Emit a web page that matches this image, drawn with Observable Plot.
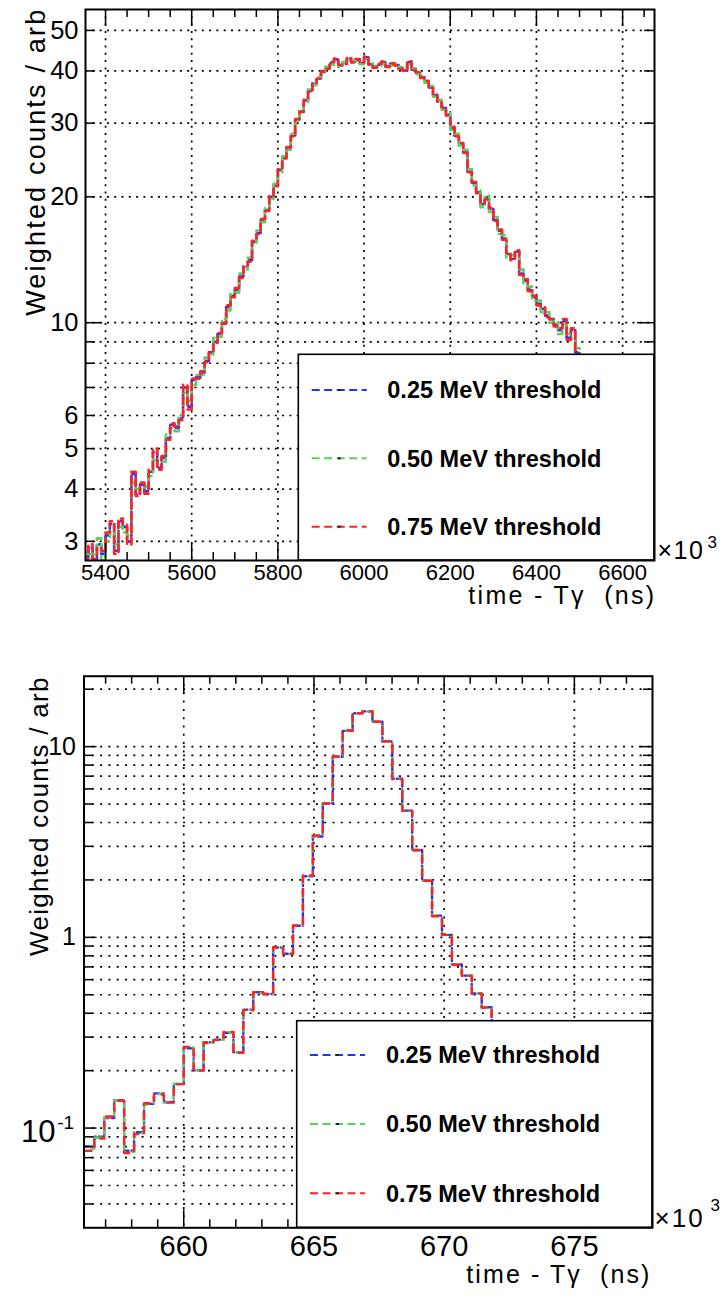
<!DOCTYPE html>
<html>
<head>
<meta charset="utf-8">
<script src="https://cdn.jsdelivr.net/npm/d3@7"></script>
<script src="https://cdn.jsdelivr.net/npm/@observablehq/plot@0.6"></script>
<style>
html, body { margin: 0; padding: 0; background: #fff; }
#chart { width: 726px; }
#chart svg { display: block; }
</style>
</head>
<body>
<div id="chart"></div>
<script>
// ---------------- data ----------------
const legendLabels = ["0.25 MeV threshold", "0.50 MeV threshold", "0.75 MeV threshold"];
const seriesColors = ["#2233ff", "#5ccf5c", "#ff2222"];

// top panel: histogram, first bin edge 5350, bin width 10 (x10^3 ns)
const topBinStart = 5350;
const topBinWidth = 10;
const top025 = [2.75,2.9,2.7,2.95,2.8,3.1,3.3,2.85,3.35,3.25,
 3.0,4.35,3.9,4.1,3.95,4.4,4.9,4.5,4.75,5.3,
 5.7,5.6,5.9,7.0,6.3,7.3,7.4,7.6,8.1,8.5,
 9.0,9.4,10.0,10.9,11.6,12.0,12.9,13.6,14.1,15.6,
 16.4,17.6,18.6,20.0,21.3,23.2,24.8,26.2,28.0,30.6,
 32.0,34.0,35.8,37.3,38.4,39.8,40.6,41.8,42.6,41.2,
 41.6,42.8,42.0,42.5,41.8,43.1,41.5,40.9,41.4,41.9,
 41.0,41.6,41.3,40.5,40.1,42.0,40.3,39.6,38.6,37.8,
 36.5,35.0,33.8,32.6,31.4,29.2,28.0,26.8,25.6,23.0,
 21.6,20.5,19.2,19.8,18.7,17.6,16.6,15.9,14.6,14.2,
 14.8,13.1,12.6,12.0,11.5,11.1,10.8,10.4,10.2,9.9,
 9.6,10.1,9.2,9.6,8.5,8.1,7.7];
const top050 = [2.85,2.8,2.8,3.05,2.7,3.0,3.2,2.95,3.25,3.15,
 3.1,4.15,4.0,4.0,4.05,4.3,4.7,4.65,4.65,5.4,
 5.6,5.5,6.0,6.8,6.5,7.1,7.5,7.5,8.25,8.4,
 9.2,9.25,10.2,10.7,11.8,11.8,13.1,13.4,14.3,15.4,
 16.6,17.4,18.8,19.8,21.5,22.9,25.0,25.9,28.3,30.3,
 32.3,33.7,36.1,37.0,38.7,39.5,40.9,41.4,42.3,40.9,
 42.0,42.4,42.3,42.2,41.5,42.7,41.8,41.1,41.1,41.6,
 41.3,41.3,41.6,40.8,40.4,41.5,40.6,39.3,38.9,37.5,
 36.8,34.7,34.1,32.3,31.7,28.9,28.3,26.5,25.9,23.3,
 21.3,20.8,18.9,20.1,18.4,17.9,16.3,16.2,14.3,14.5,
 14.5,13.4,12.4,12.2,11.3,11.3,10.6,10.6,10.0,10.1,
 9.4,9.9,9.4,9.4,8.7,7.9,7.9];
const top075 = [2.7,2.95,2.72,2.9,2.85,3.15,3.35,2.8,3.4,3.3,
 2.95,4.4,3.85,4.15,3.9,4.45,5.0,4.45,4.8,5.25,
 5.75,5.65,5.85,7.1,6.2,7.35,7.35,7.65,8.05,8.55,
 8.95,9.45,9.95,11.0,11.5,12.1,12.8,13.7,14.0,15.7,
 16.3,17.7,18.5,20.1,21.2,23.3,24.7,26.3,27.9,30.7,
 31.9,34.1,35.7,37.4,38.3,40.0,40.5,42.0,42.8,41.4,
 41.5,43.0,41.9,42.7,41.9,43.3,41.4,40.7,41.6,42.1,
 40.9,41.7,41.2,40.4,40.0,42.2,40.2,39.7,38.5,37.9,
 36.4,35.1,33.7,32.7,31.3,29.4,27.9,26.9,25.5,22.9,
 21.7,20.4,19.3,19.7,18.8,17.5,16.7,15.8,14.7,14.1,
 14.9,13.0,12.7,11.9,11.6,11.0,10.9,10.3,10.2,9.8,
 9.7,10.2,9.1,9.7,8.4,8.2,7.6];

// bottom panel: histogram, first bin edge 656.186, bin width 0.3814 (x10^3 ns)
const botBinStart = 656.186;
const botBinWidth = 0.3814;
const bot025 = [0.080,0.090,0.113,0.140,0.076,0.095,0.134,0.152,0.137,0.170,0.262,0.201,0.282,0.291,0.316,0.250,0.418,0.515,0.505,0.884,0.820,1.150,2.090,3.380,5.050,8.850,12.10,14.95,15.30,13.50,10.65,6.780,4.620,2.870,1.980,1.300,1.030,0.720,0.630,0.508,0.430,0.330];
const bot050 = [0.078,0.089,0.114,0.139,0.075,0.094,0.133,0.151,0.136,0.171,0.265,0.200,0.281,0.290,0.318,0.249,0.416,0.513,0.503,0.886,0.818,1.152,2.107,3.410,5.040,8.860,12.13,14.95,15.30,13.50,10.66,6.770,4.620,2.870,1.980,1.300,1.030,0.719,0.630,0.508,0.430,0.330];
const bot075 = [0.076,0.088,0.115,0.139,0.074,0.093,0.135,0.150,0.136,0.170,0.266,0.200,0.280,0.290,0.319,0.248,0.415,0.516,0.505,0.887,0.817,1.153,2.110,3.420,5.030,8.870,12.15,14.96,15.31,13.49,10.67,6.760,4.610,2.860,1.980,1.290,1.030,0.718,0.629,0.507,0.429,0.329];

// ticks
const topXTicks = [5400, 5600, 5800, 6000, 6200, 6400, 6600];
const topYLabels = [3, 4, 5, 6, 10, 20, 30, 40, 50];
const topYGrid = [3, 4, 5, 6, 7, 8, 9, 10, 20, 30, 40, 50];
const topYLong = [10];
const botXTicks = [660, 665, 670, 675];
const botYLabels = [1, 10];
const botYGrid = [0.04,0.05,0.06,0.07,0.08,0.09,0.1,0.2,0.3,0.4,0.5,0.6,0.7,0.8,0.9,1,2,3,4,5,6,7,8,9,10,20];
const botYLong = [0.1, 1, 10];
const yTitle = "Weighted counts / arb";
const xTitle = "time - T\u03b3 \u00a0(ns)";

// ---------------- helpers ----------------
const FONT = "'Liberation Sans', Arial, Helvetica, sans-serif";

function histSteps(start, width, vals) {
  const pts = vals.map((v, i) => ({x: start + i * width, y: v}));
  pts.push({x: start + vals.length * width, y: vals[vals.length - 1]});
  return pts;
}

function seriesLines(start, width, arrays, sw, dash, off) {
  return arrays.map((vals, i) => Plot.line(histSteps(start, width, vals), {
    x: "x", y: "y", curve: "step-after", stroke: seriesColors[i], strokeWidth: sw,
    strokeDasharray: dash[i], strokeDashoffset: off[i], clip: true
  }));
}

function frameTicks(cfg) {
  const s = {stroke: "black", strokeWidth: 1.5};
  const pw = cfg.width - cfg.ml - cfg.mr, ph = cfg.height - cfg.mt - cfg.mb;
  const yShort = cfg.yGrid.filter(d => !cfg.yLong.includes(d));
  return [
    Plot.ruleX(cfg.xMajor, {...s, insetTop: ph - cfg.xL}),
    Plot.ruleX(cfg.xMajor, {...s, insetBottom: ph - cfg.xL}),
    Plot.ruleX(cfg.xMinor, {...s, insetTop: ph - cfg.xl}),
    Plot.ruleX(cfg.xMinor, {...s, insetBottom: ph - cfg.xl}),
    Plot.ruleY(cfg.yLong, {...s, insetRight: pw - cfg.yL}),
    Plot.ruleY(cfg.yLong, {...s, insetLeft: pw - cfg.yL}),
    Plot.ruleY(yShort, {...s, insetRight: pw - cfg.yl}),
    Plot.ruleY(yShort, {...s, insetLeft: pw - cfg.yl})
  ];
}

function legendMark(L) {
  return function(index, scales, values, dims) {
    const g = d3.create("svg:g");
    const x2 = dims.width - dims.marginRight, y2 = dims.height - dims.marginBottom;
    g.append("rect").attr("x", L.x1).attr("y", L.y1)
      .attr("width", x2 - L.x1).attr("height", y2 - L.y1)
      .attr("fill", "white").attr("stroke", "black").attr("stroke-width", 1.6);
    legendLabels.forEach((lab, i) => {
      const y = L.rows[i];
      g.append("line").attr("x1", L.lx1).attr("x2", L.lx2).attr("y1", y).attr("y2", y)
        .attr("stroke", seriesColors[i]).attr("stroke-width", 2).attr("stroke-dasharray", "8,4.5");
      const mid = (L.lx1 + L.lx2) / 2;
      g.append("line").attr("x1", mid - 1.5).attr("x2", mid + 1.5).attr("y1", y).attr("y2", y)
        .attr("stroke", "#222").attr("stroke-width", 2);
      g.append("text").attr("x", L.tx).attr("y", y).attr("dy", "0.35em")
        .attr("text-anchor", "start")
        .attr("font-family", FONT).attr("font-weight", "bold").attr("font-size", L.fs)
        .attr("fill", "black").text(lab);
    });
    return g.node();
  };
}

function spaceText(svg, str, ls) {
  d3.select(svg).selectAll("text")
    .filter(function() { return this.textContent === str; })
    .style("letter-spacing", ls + "px");
}

const gridStyle = {stroke: "black", strokeOpacity: 1, strokeWidth: 1.7};

// ---------------- top chart ----------------
const T = {width: 726, height: 650, ml: 85, mr: 72, mt: 9, mb: 90};
const topXDomain = [5353.5, 6674];
const topChart = Plot.plot({
  width: T.width, height: T.height,
  marginLeft: T.ml, marginRight: T.mr, marginTop: T.mt, marginBottom: T.mb,
  x: {domain: topXDomain, axis: null, label: null},
  y: {type: "log", domain: [2.70, 56.1], axis: null, label: null},
  style: {fontFamily: FONT, fontSize: "22px", color: "black", background: "white", overflow: "visible"},
  marks: [
    Plot.gridX(topXTicks, {...gridStyle, strokeDasharray: "2,5.3"}),
    Plot.gridY(topYGrid, {...gridStyle, strokeDasharray: "2,5.3"}),
    ...seriesLines(topBinStart, topBinWidth, [top025, top050, top075], 2.6,
      ["6,3", "7,5", "7,5"], [0, -6, 0]),
    ...frameTicks({...T, xMajor: topXTicks,
      xMinor: d3.range(5400, 6675, 50).filter(d => d % 200 !== 0),
      yGrid: topYGrid, yLong: topYLong, xL: 17, xl: 8, yL: 17, yl: 10}),
    legendMark({x1: 298.3, y1: 354.3, rows: [390, 458.3, 526.7], lx1: 311.7, lx2: 366.7, tx: 387.3, fs: 23.5}),
    Plot.frame({stroke: "black", strokeWidth: 2}),
    Plot.axisX(topXTicks, {anchor: "bottom", tickSize: 0, tickPadding: 4, fontSize: 22, tickFormat: d => String(d), label: null}),
    Plot.axisY(topYLabels, {anchor: "left", tickSize: 0, tickPadding: 7, fontSize: 25.5, tickFormat: d => String(d), label: null}),
    Plot.text([yTitle], {text: d => d, frameAnchor: "top-left", rotate: -90, textAnchor: "end", dx: -60, dy: -2, fontSize: 27}),
    Plot.text([xTitle], {text: d => d, frameAnchor: "bottom-right", textAnchor: "end", dx: 2, dy: 43, fontSize: 25}),
    Plot.text(["\u00d710"], {text: d => d, frameAnchor: "bottom-right", textAnchor: "start", lineAnchor: "bottom", dx: 3, dy: -1.7, fontSize: 25}),
    Plot.text(["3"], {text: d => d, frameAnchor: "bottom-right", textAnchor: "start", lineAnchor: "bottom", dx: 53, dy: -12.8, fontSize: 17})
  ]
});
spaceText(topChart, yTitle, 2.2);
spaceText(topChart, xTitle, 2.3);
spaceText(topChart, "\u00d710", 1.5);

// ---------------- bottom chart ----------------
const B = {width: 726, height: 651, ml: 83.5, mr: 74, mt: 25.7, mb: 73.7};
const botXDomain = [656.17, 678.0];
const botChart = Plot.plot({
  width: B.width, height: B.height,
  marginLeft: B.ml, marginRight: B.mr, marginTop: B.mt, marginBottom: B.mb,
  x: {domain: botXDomain, axis: null, label: null},
  y: {type: "log", domain: [0.030, 23.4], axis: null, label: null},
  style: {fontFamily: FONT, fontSize: "22px", color: "black", background: "white", overflow: "visible"},
  marks: [
    Plot.gridX(botXTicks, {...gridStyle, strokeDasharray: "2,6.3"}),
    Plot.gridY(botYGrid, {...gridStyle, strokeDasharray: "2,6.3"}),
    ...seriesLines(botBinStart, botBinWidth, [bot025, bot050, bot075], 2.4,
      ["5,3", "7,7", "7,7"], [0, -7, 0]),
    ...frameTicks({...B, xMajor: botXTicks,
      xMinor: d3.range(657, 678, 1).filter(d => d % 5 !== 0),
      yGrid: botYGrid, yLong: botYLong, xL: 18, xl: 8, yL: 13, yl: 9}),
    legendMark({x1: 296.7, y1: 370.7, rows: [405, 474, 543.3], lx1: 310, lx2: 365, tx: 386, fs: 23.5}),
    Plot.frame({stroke: "black", strokeWidth: 2}),
    Plot.axisX(botXTicks, {anchor: "bottom", tickSize: 0, tickPadding: 7.5, fontSize: 29, tickFormat: d => String(d), label: null}),
    Plot.axisY(botYLabels, {anchor: "left", tickSize: 0, tickPadding: 8, fontSize: 25, tickFormat: d => String(d), label: null}),
    Plot.text([0.1], {y: d => d, text: () => "10", frameAnchor: "left", textAnchor: "end", dx: -28.5, dy: 4, fontSize: 31}),
    Plot.text([0.1], {y: d => d, text: () => "-1", frameAnchor: "left", textAnchor: "start", dx: -26.8, dy: -5, fontSize: 19}),
    Plot.text([yTitle], {text: d => d, frameAnchor: "top-left", rotate: -90, textAnchor: "end", dx: -54.5, dy: 0, fontSize: 26}),
    Plot.text([xTitle], {text: d => d, frameAnchor: "bottom-right", textAnchor: "end", dx: -1, dy: 55, fontSize: 25}),
    Plot.text(["\u00d710"], {text: d => d, frameAnchor: "bottom-right", textAnchor: "start", lineAnchor: "bottom", dx: 2, dy: -0.6, fontSize: 26}),
    Plot.text(["3"], {text: d => d, frameAnchor: "bottom-right", textAnchor: "start", lineAnchor: "bottom", dx: 58, dy: -16.8, fontSize: 17})
  ]
});
spaceText(botChart, yTitle, 1.3);
spaceText(botChart, xTitle, 2.1);
spaceText(botChart, "\u00d710", 2);

document.getElementById("chart").append(topChart, botChart);
</script>
</body>
</html>
